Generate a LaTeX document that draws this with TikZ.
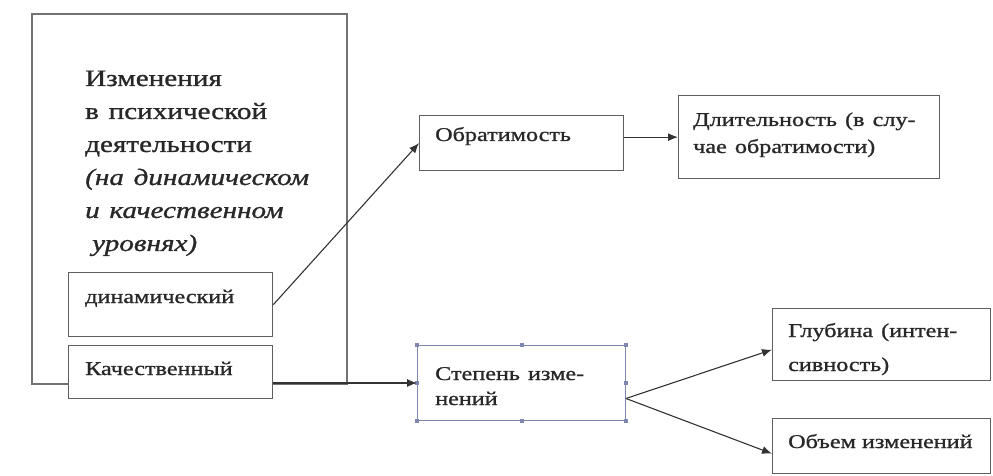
\documentclass[tikz,border=0pt]{standalone}
\usepackage{graphicx}
\usepackage{fontspec}
\setmainfont{Liberation Serif}
\newfontfamily\reffont{Liberation Serif}[FakeBold=0.9]
\usetikzlibrary{arrows.meta}
\definecolor{boxline}{RGB}{95,95,95}
\definecolor{selline}{RGB}{125,135,175}
\definecolor{txtcol}{RGB}{40,40,40}
\newcommand{\wst}[1]{\scalebox{1.24}[1]{#1}}
\begin{document}
\begin{tikzpicture}[x=1pt,y=-1pt,
  box/.style={draw=boxline, line width=1.3pt, fill=white, rectangle, inner sep=0pt, anchor=north west},
  selbox/.style={draw=selline, line width=1pt, fill=white, rectangle, inner sep=0pt, anchor=north west},
  txt/.style={anchor=base west, inner sep=0pt, text=txtcol, font=\reffont\fontsize{19.5}{26}\selectfont},
  arr/.style={draw=black!80, line width=1.1pt, -{Latex[length=10pt,width=8pt]}},
]
\useasboundingbox (0,0) rectangle (993,476);
% boxes
\node[box, draw=black!55, line width=1.6pt, minimum width=315pt, minimum height=370pt] (outer) at (31,13) {};
\node[box, minimum width=204pt, minimum height=64pt] (dyn) at (68,272) {};
\node[box, minimum width=204pt, minimum height=53pt] (kach) at (68,345) {};
\node[box, minimum width=204pt, minimum height=55pt] (obr) at (419,115) {};
\node[box, minimum width=261pt, minimum height=83pt] (dl) at (678,95) {};
\node[selbox, minimum width=208pt, minimum height=75pt] (step) at (417,345) {};
\node[box, minimum width=218pt, minimum height=72pt] (glub) at (772,308) {};
\node[box, minimum width=218pt, minimum height=55pt] (obem) at (772,418) {};
% selection handles
\foreach \a in {north west,north,north east,east,south east,south,south west,west}
  \fill[selline] ([shift={(-2pt,-2pt)}]step.\a) rectangle ++(4pt,4pt);
% texts
\node[txt, font=\reffont\fontsize{23.5}{33}\selectfont, align=left, text width=300pt] (title) at (85,86)
  {\wst{Изменения}\\\wst{в психической}\\\wst{деятельности}\\\wst{\textit{(на динамическом}}\\\wst{\textit{и качественном}}\\\hspace*{7pt}\wst{\textit{уровнях)}}};
\node[txt] (tdyn) at (85,303) {\wst{динамический}};
\node[txt] (tkach) at (85,375) {\wst{Качественный}};
\node[txt] (tobr) at (435,141) {\wst{Обратимость}};
\node[txt, align=left, text width=240pt, font=\reffont\fontsize{19.5}{27}\selectfont] (tdl) at (693,126) {\wst{Длительность (в слу-}\\\wst{чае обратимости)}};
\node[txt, align=left, text width=190pt, font=\reffont\fontsize{19.5}{25}\selectfont] (tstep) at (435,380) {\wst{Степень изме-}\\\wst{нений}};
\node[txt, align=left, text width=200pt, font=\reffont\fontsize{19.5}{34}\selectfont] (tglub) at (788,337) {\wst{Глубина (интен-}\\\wst{сивность)}};
\node[txt] (tobem) at (788,448) {\wst{Объем изменений}};
% connectors
\draw[arr] (dyn.east) -- (obr.west);
\draw[arr] (obr.east |- dl.west) -- (dl.west);
\draw[arr] (kach.east |- step.west) -- (step.west);
\coordinate (fork) at ([yshift=-15.5pt]step.east);
\draw[arr] (fork) -- ([yshift=-5pt]glub.west);
\draw[arr] (fork) -- ([yshift=-7.5pt]obem.west);
\end{tikzpicture}
\end{document}
